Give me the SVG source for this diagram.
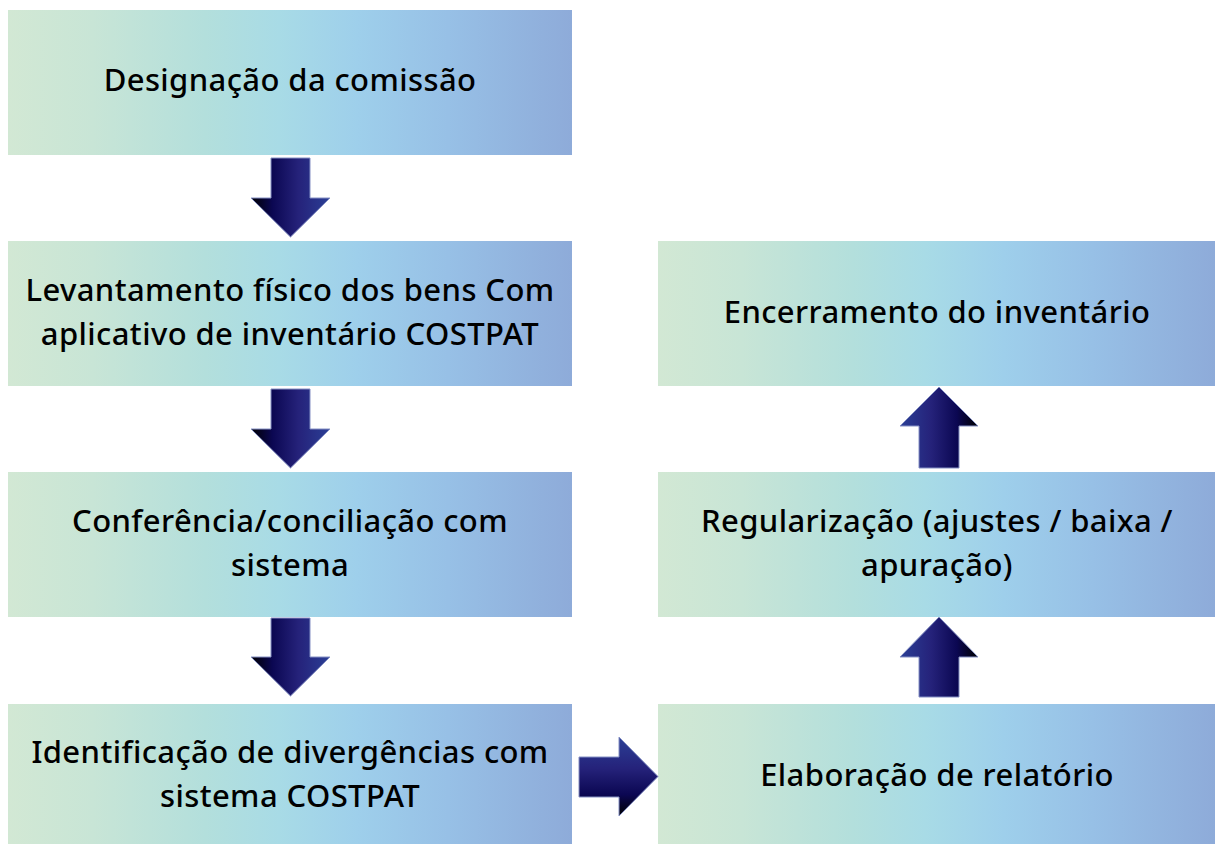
<svg xmlns="http://www.w3.org/2000/svg" width="1215" height="844" viewBox="0 0 1215 844">
<defs>
<linearGradient id="box" x1="0" y1="0" x2="1" y2="0">
<stop offset="0" stop-color="#d2e8d4"/>
<stop offset="0.15" stop-color="#c8e5d6"/>
<stop offset="0.35" stop-color="#b3dfdc"/>
<stop offset="0.48" stop-color="#a8dbe6"/>
<stop offset="0.62" stop-color="#9ecfeb"/>
<stop offset="0.78" stop-color="#97c0e6"/>
<stop offset="1" stop-color="#8eabd9"/>
</linearGradient>
<linearGradient id="adown" x1="0" y1="0" x2="1" y2="0">
<stop offset="0" stop-color="#000000"/>
<stop offset="0.27" stop-color="#0b0752"/>
<stop offset="0.6" stop-color="#25227a"/>
<stop offset="1" stop-color="#2b3f96"/>
</linearGradient>
<linearGradient id="aup" x1="1" y1="0" x2="0" y2="0">
<stop offset="0" stop-color="#000000"/>
<stop offset="0.27" stop-color="#0b0752"/>
<stop offset="0.6" stop-color="#25227a"/>
<stop offset="1" stop-color="#2b3f96"/>
</linearGradient>
<linearGradient id="aright" x1="0" y1="1" x2="0" y2="0">
<stop offset="0" stop-color="#000000"/>
<stop offset="0.27" stop-color="#0b0752"/>
<stop offset="0.6" stop-color="#25227a"/>
<stop offset="1" stop-color="#2b3f96"/>
</linearGradient>
</defs>
<style>
.box{fill:url(#box);}
.t{font-family:"Noto Sans","DejaVu Sans",sans-serif;font-size:31px;font-weight:500;letter-spacing:0.4px;fill:#000;text-anchor:middle;}
.arr{stroke:#8590c4;stroke-width:1;}
</style>
<rect width="1215" height="844" fill="#ffffff"/>
<g id="node-designacao">
<rect class="box" x="8" y="10" width="564" height="145"/>
<text class="t" x="290" y="91">Designação da comissão</text>
</g>
<g id="node-levantamento">
<rect class="box" x="8" y="241" width="564" height="145"/>
<text class="t" x="290" y="301">Levantamento físico dos bens Com</text>
<text class="t" x="290" y="345">aplicativo de inventário COSTPAT</text>
</g>
<g id="node-conferencia">
<rect class="box" x="8" y="472" width="564" height="145"/>
<text class="t" x="290" y="532">Conferência/conciliação com</text>
<text class="t" x="290" y="576">sistema</text>
</g>
<g id="node-identificacao">
<rect class="box" x="8" y="704" width="564" height="140"/>
<text class="t" x="290" y="763">Identificação de divergências com</text>
<text class="t" x="290" y="807">sistema COSTPAT</text>
</g>
<g id="node-encerramento">
<rect class="box" x="658" y="241" width="557" height="145"/>
<text class="t" x="937" y="323">Encerramento do inventário</text>
</g>
<g id="node-regularizacao">
<rect class="box" x="658" y="472" width="557" height="145"/>
<text class="t" x="937" y="532">Regularização (ajustes / baixa /</text>
<text class="t" x="937" y="576">apuração)</text>
</g>
<g id="node-elaboracao">
<rect class="box" x="658" y="704" width="557" height="140"/>
<text class="t" x="937" y="786">Elaboração de relatório</text>
</g>
<g id="connectors">
<path class="arr" fill="url(#adown)" d="M271,158 H310 V198 H330 L290.5,237 L251,198 H271 Z"/>
<path class="arr" fill="url(#adown)" d="M271,389 H310 V429 H330 L290.5,468 L251,429 H271 Z"/>
<path class="arr" fill="url(#adown)" d="M271,618 H310 V657 H330 L290.5,696 L251,657 H271 Z"/>
<path class="arr" fill="url(#aright)" d="M579,757 H619 V737 L658,776.5 L619,816 V797 H579 Z"/>
<path class="arr" fill="url(#aup)" d="M919,697 H959 V657 H978 L939,617 L900,657 H919 Z"/>
<path class="arr" fill="url(#aup)" d="M919,468 H959 V426 H978 L939,387 L900,426 H919 Z"/>
</g>
</svg>
